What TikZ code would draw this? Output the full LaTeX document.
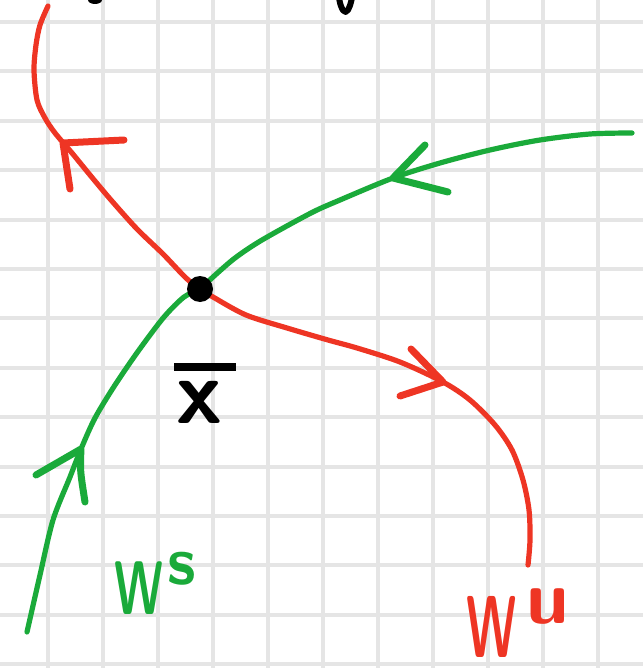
\documentclass[tikz,border=0pt]{standalone}
\usepackage{fontspec}
\usepackage{graphicx}
\definecolor{rouge}{HTML}{EE3524}
\definecolor{vert}{HTML}{1AAA3A}
\begin{document}
\begin{tikzpicture}[x=0.5pt,y=-0.5pt,
  grille/.style={gray!20,line width=2pt},
  courbe/.style={line width=2.6pt,line cap=round,line join=round},
  barbe/.style={line width=3.5pt,line cap=round,line join=round},
  point/.style={circle,fill=black,inner sep=0pt,minimum size=13pt}]

\useasboundingbox (0,0) rectangle (643,668);
\clip (0,0) rectangle (643,668);

% Grille
\foreach \x in {-7.5,47.5,...,653}
  \draw[grille] (\x,0) -- (\x,668);
\foreach \y in {22,71.4,...,670}
  \draw[grille] (0,\y) -- (643,\y);

% Variete instable
\draw[courbe,rouge] plot[smooth] coordinates {
(48,6) (40,25) (36,45) (34,70) (37,100) (45,118) (55,133) (72,153)
(90,175) (111,200) (137,229) (163,254) (186,278) (200,289)
(213,297) (246,315) (287,328) (328,340) (357,348) (400,362) (443,382)
(470,400) (495,425) (512,450) (523,480) (529,510) (530,540) (528,565)
};

% Variete stable
\draw[courbe,vert] plot[smooth] coordinates {
(632,133) (590,134) (540,140) (490,150) (440,163) (393,178) (340,200)
(311,213) (262,240) (235,258) (213,277) (200,289)
(184,297) (164,317) (139,350) (115,385) (95,418) (81,449)
(70,477) (53,520) (40,575) (27,632)
};

% Fleches
\draw[barbe,rouge] (124,140) -- (63,143) -- (70,189);
\draw[barbe,rouge] (411,349) -- (443,382) -- (400,396);
\draw[barbe,vert] (425,145) -- (393,178) -- (448,192);
\draw[barbe,vert] (36,475) -- (81,449) .. controls (80,470) .. (85,502);

% Point fixe
\node[point] (xbar) at (200,289) {};

% Legendes
\node[anchor=base west,inner sep=0pt,text=vert] (ws) at (114,614)
  {\sffamily\bfseries\fontsize{38}{40}\selectfont\scalebox{0.62}[1]{W}\hspace{2pt}\raisebox{15pt}{\fontsize{34}{40}\selectfont s}};
\node[anchor=base west,inner sep=0pt,text=rouge] (wu) at (466,657)
  {\sffamily\bfseries\fontsize{44}{46}\selectfont\scalebox{0.55}[1]{W}\hspace{5pt}\raisebox{17pt}{\fontsize{38}{42}\selectfont u}};
\node[anchor=base west,inner sep=0pt] (xlab) at (176,423)
  {\sffamily\bfseries\fontsize{46}{50}\selectfont\makebox[0pt][l]{\hspace{-1pt}\raisebox{26pt}{\rule{31pt}{4pt}}}x};

% Textes coupes
\fill (95,0) ellipse (7 and 4);
\draw[barbe,line width=3pt] (339,-2) .. controls (341,10) and (345,15) .. (348,10) .. controls (350,6) .. (352,-2);

\end{tikzpicture}
\end{document}
